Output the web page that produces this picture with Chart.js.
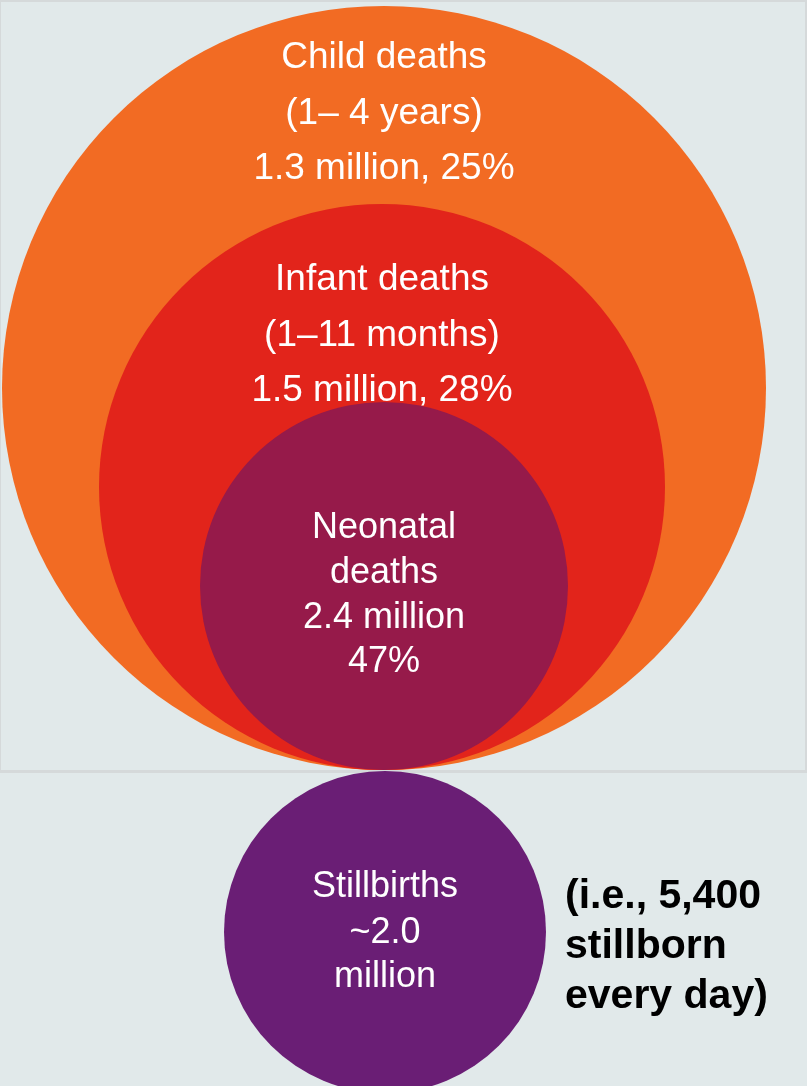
<!DOCTYPE html>
<html>
<head>
<meta charset="utf-8">
<script src="https://cdn.jsdelivr.net/npm/chart.js@4/dist/chart.umd.min.js"></script>
<style>
  html, body { margin: 0; padding: 0; background: #e1e9ea; }
  canvas { display: block; }
</style>
</head>
<body>
<canvas id="deaths" width="807" height="1086"></canvas>
<script>
// Under-five deaths by age band, plus stillbirths (millions, share of under-five)
const groups = ['Child deaths', 'Infant deaths', 'Neonatal deaths', 'Stillbirths'];
const ageBands = ['(1\u2013 4 years)', '(1\u201311 months)', '', ''];
const millions = [1.3, 1.5, 2.4, 2.0];
const shares = [25, 28, 47, null];
const perDay = 5400;

// Circle placement on a pixel-like grid (x 0-807, y 0-1086 downward)
const circleX = [384, 382, 384, 385];
const circleY = [388, 487, 586, 932];
const circleR = [382, 283, 184, 161];
const colors = ['#f26b23', '#e2241b', '#961a4a', '#6a1e75'];

const W = 807, H = 1086, SPLIT = 771;

const panelBg = {
  id: 'panelBg',
  beforeDraw(chart) {
    const c = chart.ctx;
    c.save();
    c.fillStyle = '#e1e9ea';
    c.fillRect(0, 0, W, H);
    c.fillStyle = '#d5d9da';
    c.fillRect(0, 0, W, 2);
    c.fillRect(0, 0, 1, SPLIT);
    c.fillRect(W - 2, 0, 2, SPLIT);
    c.fillRect(0, SPLIT - 1, W, 3);
    c.restore();
  }
};

function labelLines(i) {
  if (i === 2) {
    return [['Neonatal', -48], ['deaths', -3], [millions[i].toFixed(1) + ' million', 42], [shares[i] + '%', 86]];
  }
  if (i === 3) {
    return [['Stillbirths', -35], ['~' + millions[i].toFixed(1), 11], ['million', 55]];
  }
  const name = groups[i];
  return [[name, 0], [ageBands[i], 56], [millions[i].toFixed(1) + ' million, ' + shares[i] + '%', 111]];
}

const circleLabels = {
  id: 'circleLabels',
  afterDatasetsDraw(chart) {
    const c = chart.ctx;
    const pts = chart.getDatasetMeta(0).data;
    c.save();
    c.fillStyle = '#ffffff';
    c.textAlign = 'center';
    c.textBaseline = 'alphabetic';
    pts.forEach((pt, i) => {
      let top;
      if (i === 0) top = pt.y - 320;
      else if (i === 1) top = pt.y - 197;
      else top = pt.y;
      c.font = (i < 2 ? '37px' : '36px') + ' "Liberation Sans", Arial, sans-serif';
      labelLines(i).forEach(([txt, dy]) => c.fillText(txt, pt.x, top + dy));
    });

    // note beside the stillbirth circle
    const sb = pts[3];
    c.fillStyle = '#000000';
    c.textAlign = 'left';
    c.font = 'bold 41px "Liberation Sans", Arial, sans-serif';
    const note = ['(i.e., ' + perDay.toLocaleString('en-US'), 'stillborn', 'every day)'];
    note.forEach((txt, k) => c.fillText(txt, 565, sb.y - 24 + k * 50));
    c.restore();
  }
};

const points = groups.map((g, i) => ({ x: circleX[i], y: circleY[i], r: circleR[i] }));

new Chart(document.getElementById('deaths'), {
  type: 'bubble',
  data: {
    labels: groups,
    datasets: [{
      data: points,
      backgroundColor: colors,
      hoverBackgroundColor: colors,
      borderWidth: 0,
      hoverBorderWidth: 0,
      clip: false
    }]
  },
  options: {
    responsive: false,
    animation: false,
    events: [],
    layout: { padding: 0, autoPadding: false },
    plugins: {
      legend: { display: false },
      tooltip: { enabled: false }
    },
    scales: {
      x: { type: 'linear', display: false, min: 0, max: W },
      y: { type: 'linear', display: false, min: 0, max: H, reverse: true }
    }
  },
  plugins: [panelBg, circleLabels]
});
</script>
</body>
</html>
